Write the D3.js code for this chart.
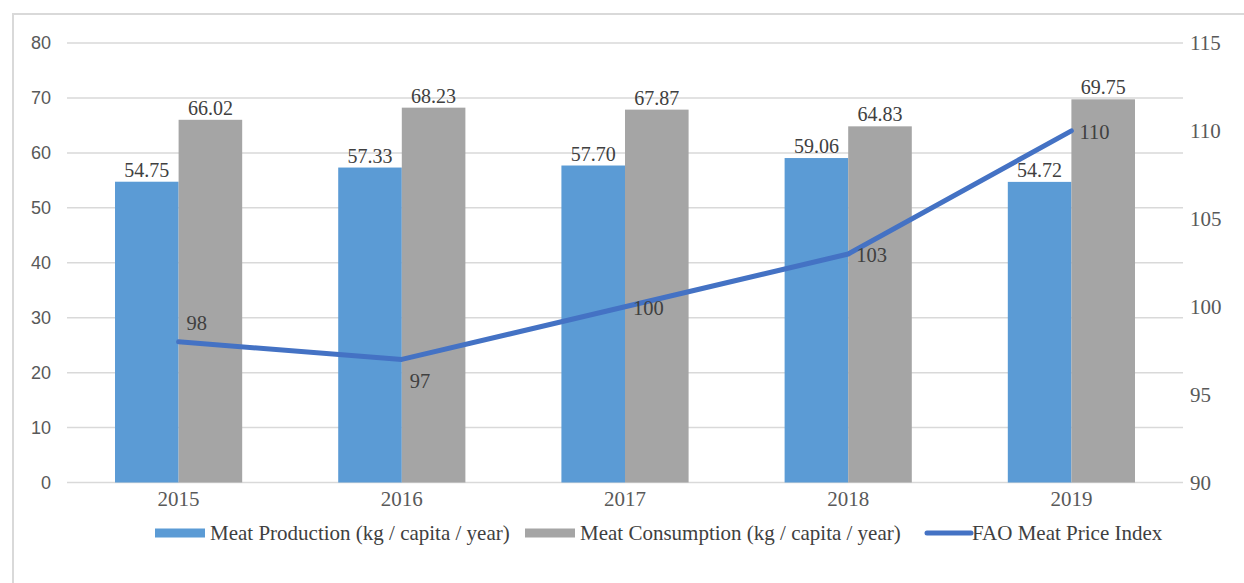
<!DOCTYPE html>
<html>
<head>
<meta charset="utf-8">
<script src="https://cdn.jsdelivr.net/npm/d3@7"></script>
<style>
  html, body { margin: 0; padding: 0; background: #fff; }
  svg { display: block; }
</style>
</head>
<body>
<svg id="chart" width="1244" height="583"></svg>
<script>
// Meat market figures, 2015–2019
const years = ["2015", "2016", "2017", "2018", "2019"];
const production = [54.75, 57.33, 57.70, 59.06, 54.72];
const consumption = [66.02, 68.23, 67.87, 64.83, 69.75];
const priceIndex = [98, 97, 100, 103, 110];
const leftTicks = [0, 10, 20, 30, 40, 50, 60, 70, 80];
const rightTicks = [90, 95, 100, 105, 110, 115];
const seriesNames = [
  "Meat Production (kg / capita / year)",
  "Meat Consumption (kg / capita / year)",
  "FAO Meat Price Index"
];

const W = 1244, H = 583;
const plot = { left: 67, right: 1183, top: 43, bottom: 482.5 };
const colors = { prod: "#5B9BD5", cons: "#A5A5A5", line: "#4472C4", grid: "#D9D9D9", text: "#404040", axis: "#595959" };
const serif = "'Liberation Serif', 'Times New Roman', serif";
const sans = "'Liberation Sans', Arial, sans-serif";

const svg = d3.select("#chart");

// chart frame
svg.append("rect")
  .attr("x", 13).attr("y", 14)
  .attr("width", W).attr("height", H)
  .attr("fill", "none").attr("stroke", "#D9D9D9").attr("stroke-width", 2);

const x = d3.scaleBand().domain(years).range([plot.left, plot.right]).paddingInner(0).paddingOuter(0);
const bw = x.bandwidth();
const barW = bw / 3.51;
const x1 = d3.scaleBand().domain(["prod", "cons"])
  .range([bw / 2 - barW, bw / 2 + barW]).padding(0);

const yL = d3.scaleLinear().domain([0, 80]).range([plot.bottom, plot.top]);
const yR = d3.scaleLinear().domain([90, 115]).range([plot.bottom, plot.top]);

// horizontal gridlines
svg.append("g")
  .selectAll("line").data(leftTicks).join("line")
  .attr("x1", plot.left).attr("x2", plot.right)
  .attr("y1", d => yL(d)).attr("y2", d => yL(d))
  .attr("stroke", colors.grid).attr("stroke-width", 1.5);

// left axis
const axL = svg.append("g").attr("transform", `translate(${plot.left - 16},0)`)
  .call(d3.axisLeft(yL).tickValues(leftTicks).tickSize(0).tickPadding(0));
axL.select(".domain").remove();
axL.selectAll("text").attr("font-family", sans).attr("font-size", 18).attr("fill", colors.axis);

// right axis
const axR = svg.append("g").attr("transform", `translate(${plot.right + 7},0)`)
  .call(d3.axisRight(yR).tickValues(rightTicks).tickSize(0).tickPadding(0));
axR.select(".domain").remove();
axR.selectAll("text").attr("font-family", serif).attr("font-size", 21).attr("fill", colors.axis);

// bottom axis
const axB = svg.append("g").attr("transform", `translate(0,${plot.bottom + 8})`)
  .call(d3.axisBottom(x).tickSize(0).tickPadding(0));
axB.select(".domain").remove();
axB.selectAll("text").attr("font-family", serif).attr("font-size", 21).attr("fill", colors.axis).attr("dy", "0.75em");

// bars
const rows = years.map((yr, i) => ({ year: yr, prod: production[i], cons: consumption[i] }));
const groups = svg.append("g").selectAll("g").data(rows).join("g")
  .attr("transform", d => `translate(${x(d.year)},0)`);
["prod", "cons"].forEach(key => {
  groups.append("rect")
    .attr("x", x1(key)).attr("width", x1.bandwidth())
    .attr("y", d => yL(d[key])).attr("height", d => yL(0) - yL(d[key]))
    .attr("fill", colors[key]);
  groups.append("text")
    .attr("x", x1(key) + x1.bandwidth() / 2)
    .attr("y", d => yL(d[key]) - 5)
    .attr("text-anchor", "middle")
    .attr("font-family", serif).attr("font-size", 20).attr("fill", colors.text)
    .text(d => d[key].toFixed(2));
});

// price index line
const pts = years.map((yr, i) => ({ year: yr, v: priceIndex[i] }));
const line = d3.line().x(d => x(d.year) + bw / 2).y(d => yR(d.v));
svg.append("path").datum(pts)
  .attr("d", line).attr("fill", "none")
  .attr("stroke", colors.line).attr("stroke-width", 5)
  .attr("stroke-linejoin", "round").attr("stroke-linecap", "round");

// line labels: first sits above-right, second below-right, the rest to the right
const labelDy = [-19, 21, 1, 1, 1];
svg.append("g").selectAll("text").data(pts).join("text")
  .attr("x", d => x(d.year) + bw / 2 + 8)
  .attr("y", (d, i) => yR(d.v) + labelDy[i])
  .attr("dy", "0.35em")
  .attr("font-family", serif).attr("font-size", 20.5).attr("fill", colors.text)
  .text(d => d.v);

// legend
const legendY = 533;
const legend = svg.append("g").attr("font-family", serif).attr("font-size", 21).attr("fill", colors.text);
const items = [
  { name: seriesNames[0], type: "rect", color: colors.prod, x: 155, gap: 55 },
  { name: seriesNames[1], type: "rect", color: colors.cons, x: 525, gap: 55 },
  { name: seriesNames[2], type: "line", color: colors.line, x: 925, gap: 47 }
];
items.forEach(it => {
  if (it.type === "rect") {
    legend.append("rect").attr("x", it.x).attr("y", legendY - 4.5).attr("width", 50).attr("height", 9).attr("fill", it.color);
  } else {
    legend.append("line").attr("x1", it.x + 2).attr("x2", it.x + 46).attr("y1", legendY).attr("y2", legendY)
      .attr("stroke", it.color).attr("stroke-width", 5).attr("stroke-linecap", "round");
  }
  legend.append("text").attr("x", it.x + it.gap).attr("y", legendY).attr("dy", "0.35em").text(it.name);
});
</script>
</body>
</html>
